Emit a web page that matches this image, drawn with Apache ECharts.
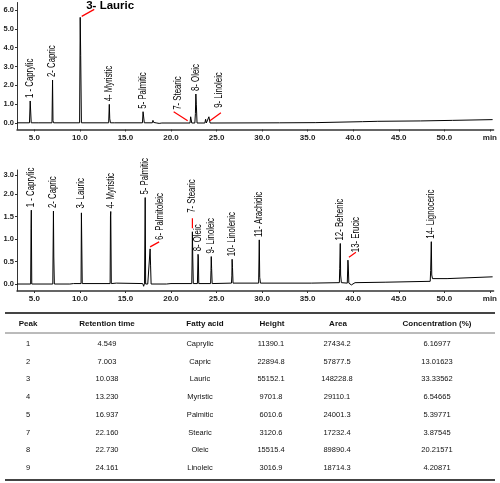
<!DOCTYPE html>
<html><head><meta charset="utf-8">
<script src="https://cdn.jsdelivr.net/npm/echarts@6/dist/echarts.min.js"></script>
<style>html,body{margin:0;padding:0;background:#fff}#c{width:500px;height:483px}</style>
</head><body><div id="c"></div><script>
// ---------------- DATA ----------------
// Top chromatogram (sample): labelled peaks
const topPeakNames   = ['1 - Caprylic','2- Capric','3- Lauric','4- Myristic','5- Palmitic','7- Stearic','8- Oleic','9- Linoleic'];
const topPeakTimes   = [4.549, 7.003, 10.038, 13.230, 16.937, 22.160, 22.730, 24.161];
const topPeakHeights = [1.17, 2.28, 5.61, 0.99, 0.60, 0.33, 1.54, 0.33];
// Top trace (time in min, signal)
const topTraceTime   = [3.1,4.47,4.549,4.59,4.66,5.50,5.56,5.63,6.94,7.003,7.05,7.12,9.97,10.038,10.09,10.17,13.16,13.230,13.28,13.36,13.83,13.89,13.96,16.87,16.937,16.99,17.07,17.95,18.02,18.10,18.30,18.45,18.7,19.0,22.09,22.160,22.21,22.28,22.62,22.68,22.730,22.78,22.86,23.72,23.80,23.88,24.09,24.161,24.21,24.29,31.9,32.0,32.1,35.9,36.0,41.0,41.1,42.7,42.8,47.4,47.5,50.9,51.0,55.3];
const topTraceSignal = [0.01,0.01,1.17,1.10,0.01,0.01,0.08,0.01,0.01,2.28,0.12,0.01,0.01,5.61,3.60,0.01,0.01,0.99,0.22,0.01,0.01,0.09,0.01,0.01,0.60,0.37,0.01,0.01,0.14,0.03,0.06,0.0,-0.02,0.0,0.0,0.33,0.30,0.0,0.0,0.50,1.54,1.00,0.0,0.0,0.20,0.0,0.0,0.33,0.28,0.0,0.01,0.04,0.02,0.02,0.07,0.07,0.09,0.09,0.10,0.11,0.14,0.14,0.17,0.18];

// Bottom chromatogram (standard mix): labelled peaks
const botPeakNames   = ['1 - Caprylic','2- Capric','3- Lauric','4- Myristic','5- Palmitic','6- Palmitoleic','7- Stearic','8- Oleic','9- Linoleic','10- Linolenic','11- Arachidic','12- Behenic','13- Erucic','14- Lignoceric'];
const botPeakTimes   = [4.67, 7.10, 10.20, 13.39, 17.17, 17.71, 22.35, 22.97, 24.42, 26.71, 29.69, 38.58, 39.42, 48.57];
const botPeakHeights = [1.64, 1.62, 1.61, 1.61, 1.92, 0.78, 1.16, 0.66, 0.61, 0.55, 0.98, 0.90, 0.53, 0.94];
// Bottom trace
const botTraceTime   = [3.1,4.60,4.64,4.67,4.72,7.03,7.10,7.14,7.20,8.9,9.0,9.3,10.13,10.17,10.20,10.26,13.32,13.36,13.39,13.45,14.0,14.1,16.9,17.0,17.10,17.17,17.22,17.45,17.66,17.71,17.76,17.82,19.5,19.6,20.0,22.28,22.31,22.35,22.39,22.45,22.90,22.97,23.00,23.05,24.35,24.39,24.42,24.46,24.52,26.64,26.68,26.71,26.75,26.81,29.62,29.69,29.74,29.82,35.4,35.5,38.48,38.52,38.58,38.62,38.70,39.35,39.42,39.46,39.52,39.8,40.2,43.5,43.6,48.45,48.50,48.57,48.62,48.70,50.3,50.4,55.3];
const botTraceSignal = [0.0,0.0,1.24,1.64,0.0,0.0,1.62,0.60,0.0,0.0,-0.02,0.01,0.01,1.58,1.61,0.01,0.01,1.51,1.61,0.01,0.02,0.01,0.01,-0.05,0.02,1.92,0.0,0.0,0.0,0.78,0.42,0.0,0.0,0.02,0.01,0.01,0.40,1.16,0.60,0.01,0.01,0.66,0.60,0.01,0.01,0.30,0.61,0.35,0.01,0.02,0.18,0.55,0.37,0.02,0.02,0.98,0.15,0.02,0.02,0.03,0.03,0.35,0.90,0.20,0.03,0.02,0.53,0.40,0.02,-0.02,0.03,0.04,0.06,0.06,0.30,0.94,0.20,0.12,0.12,0.16,0.16];

// Table
const tableHeaders = ['Peak','Retention time','Fatty acid','Height','Area','Concentration (%)'];
const tablePeak    = ['1','2','3','4','5','7','8','9'];
const tableRT      = ['4.549','7.003','10.038','13.230','16.937','22.160','22.730','24.161'];
const tableAcid    = ['Caprylic','Capric','Lauric','Myristic','Palmitic','Stearic','Oleic','Linoleic'];
const tableHeight  = ['11390.1','22894.8','55152.1','9701.8','6010.6','3120.6','15515.4','3016.9'];
const tableArea    = ['27434.2','57877.5','148228.8','29110.1','24001.3','17232.4','89890.4','18714.3'];
const tableConc    = ['6.16977','13.01623','33.33562','6.54665','5.39771','3.87545','20.21571','4.20871'];

// ---------------- STYLE / LAYOUT ----------------
const FONT = '"Liberation Sans", Arial, sans-serif';
const xTicks = [5,10,15,20,25,30,35,40,45,50,55];
const zip = (a, b) => a.map((v, i) => [v, b[i]]);

// label placement tweaks (pixels, relative to the peak apex): label anchor shift and red leader segment
const topLabelStyle = {
  2: {horizontal: true, shift: [6, -11.5], leader: [1.5, -1, 14, -8]},
  5: {shift: [-12, -7], leader: [-17, -5, -3, 4]},
  7: {shift: [10, -9], leader: [1, 4, 12, -4]}
};
const botLabelStyle = {
  5: {shift: [10, -9], leader: [0, -2, 9, -7]},
  6: {shift: [0, -19], leader: [0, -13.5, 0, -3.5]},
  12: {shift: [8, -8], leader: [1, -3, 8, -8]}
};

function traceSeries(xi, yi, t, v) {
  return {
    type: 'line', xAxisIndex: xi, yAxisIndex: yi, data: zip(t, v),
    showSymbol: false, symbol: 'none', lineStyle: {color: '#000', width: 1},
    silent: true, animation: false, z: 3
  };
}

function xAxis(gi) {
  return {
    type: 'value', gridIndex: gi, min: 3.1, max: 55.4,
    axisLine: {show: true, onZero: false, lineStyle: {color: '#333', width: 1.5}},
    axisTick: {show: true, length: 2, customValues: xTicks, lineStyle: {color: '#333'}},
    splitLine: {show: false},
    axisLabel: {customValues: xTicks, margin: 4, fontSize: 8, fontWeight: 'bold', color: '#222', fontFamily: FONT,
      formatter: v => v === 55 ? 'min' : v.toFixed(1)}
  };
}

const chart = echarts.init(document.getElementById('c'), null, {renderer: 'canvas'});
chart.setOption({
  backgroundColor: '#fff',
  animation: false,
  grid: [
    {left: 17, right: 3, top: 2.5, height: 127, containLabel: false},
    {left: 17, right: 3, top: 170, height: 121, containLabel: false}
  ],
  xAxis: [xAxis(0), xAxis(1)],
  yAxis: [
    {type: 'value', gridIndex: 0, min: -0.345, max: 6.4, position: 'left',
      axisLine: {show: true, onZero: false, lineStyle: {color: '#333', width: 1}},
      axisTick: {show: true, length: 2, customValues: [0,1,2,3,4,5,6], lineStyle: {color: '#333'}},
      splitLine: {show: false},
      axisLabel: {customValues: [0,1,2,3,4,5,6], margin: 3, fontSize: 7.5, fontWeight: 'bold', color: '#222', fontFamily: FONT,
        formatter: v => v.toFixed(1)}},
    {type: 'value', gridIndex: 1, min: -0.155, max: 3.11, position: 'left',
      breaks: [{start: 2.0, end: 3.0, gap: '15.7%'}],
      breakArea: {show: false},
      axisLine: {show: false},
      axisTick: {show: true, length: 2, customValues: [0,0.5,1,1.5,2,3], lineStyle: {color: '#333'}},
      splitLine: {show: false},
      axisLabel: {customValues: [0,0.5,1,1.5,2,3], margin: 3, fontSize: 7.5, fontWeight: 'bold', color: '#222', fontFamily: FONT,
        formatter: v => v.toFixed(1)}},
    // continuous axis line for the lower panel
    {type: 'value', gridIndex: 1, min: 0, max: 1, position: 'left', offset: 0,
      axisLine: {show: true, onZero: false, lineStyle: {color: '#333', width: 1}},
      axisTick: {show: false}, axisLabel: {show: false}, splitLine: {show: false}}
  ],
  series: [
    traceSeries(0, 0, topTraceTime, topTraceSignal),
    traceSeries(1, 1, botTraceTime, botTraceSignal)
  ]
});

// ---- graphics: peak labels (positioned from data through the chart scales) + table ----
const graphics = [];
function addPeakLabels(gi, names, times, heights, styles) {
  times.forEach((t, i) => {
    const p = chart.convertToPixel({gridIndex: gi}, [t, heights[i]]);
    const st = styles[i] || {};
    const sh = st.shift || [0, -3];
    if (st.horizontal) {
      graphics.push({type: 'text', x: p[0] + sh[0], y: p[1] + sh[1], z: 10,
        style: {text: names[i], font: 'bold 11.5px ' + FONT, fill: '#000', textAlign: 'left', textVerticalAlign: 'middle'}});
    } else {
      graphics.push({type: 'text', x: p[0] + sh[0], y: p[1] + sh[1], rotation: Math.PI / 2, scaleX: 0.78, z: 10,
        style: {text: names[i], font: '10px ' + FONT, fill: '#000', textAlign: 'left', textVerticalAlign: 'middle'}});
    }
    if (st.leader) {
      const L = st.leader;
      graphics.push({type: 'line', z: 11, shape: {x1: p[0] + L[0], y1: p[1] + L[1], x2: p[0] + L[2], y2: p[1] + L[3]},
        style: {stroke: '#ff0000', lineWidth: 1.2}});
    }
  });
}
addPeakLabels(0, topPeakNames, topPeakTimes, topPeakHeights, topLabelStyle);
addPeakLabels(1, botPeakNames, botPeakTimes, botPeakHeights, botLabelStyle);

const colHead = [28, 107, 205, 272, 338, 437];
const colData = [28, 107, 200, 271, 337, 437];
const rowY0 = 344, rowStep = 17.7;
graphics.push({type: 'line', shape: {x1: 5, y1: 313, x2: 495, y2: 313}, style: {stroke: '#444', lineWidth: 2}});
graphics.push({type: 'line', shape: {x1: 5, y1: 333, x2: 495, y2: 333}, style: {stroke: '#777', lineWidth: 1}});
graphics.push({type: 'line', shape: {x1: 5, y1: 480, x2: 495, y2: 480}, style: {stroke: '#444', lineWidth: 2}});
tableHeaders.forEach((h, i) => graphics.push({type: 'text', x: colHead[i], y: 324,
  style: {text: h, font: 'bold 8px ' + FONT, fill: '#111', textAlign: 'center', textVerticalAlign: 'middle'}}));
const cols = [tablePeak, tableRT, tableAcid, tableHeight, tableArea, tableConc];
tablePeak.forEach((_, r) => cols.forEach((col, c) => graphics.push({type: 'text', x: colData[c], y: rowY0 + r * rowStep,
  style: {text: col[r], font: '7.5px ' + FONT, fill: '#111', textAlign: 'center', textVerticalAlign: 'middle'}})));

chart.setOption({graphic: graphics});
</script></body></html>
